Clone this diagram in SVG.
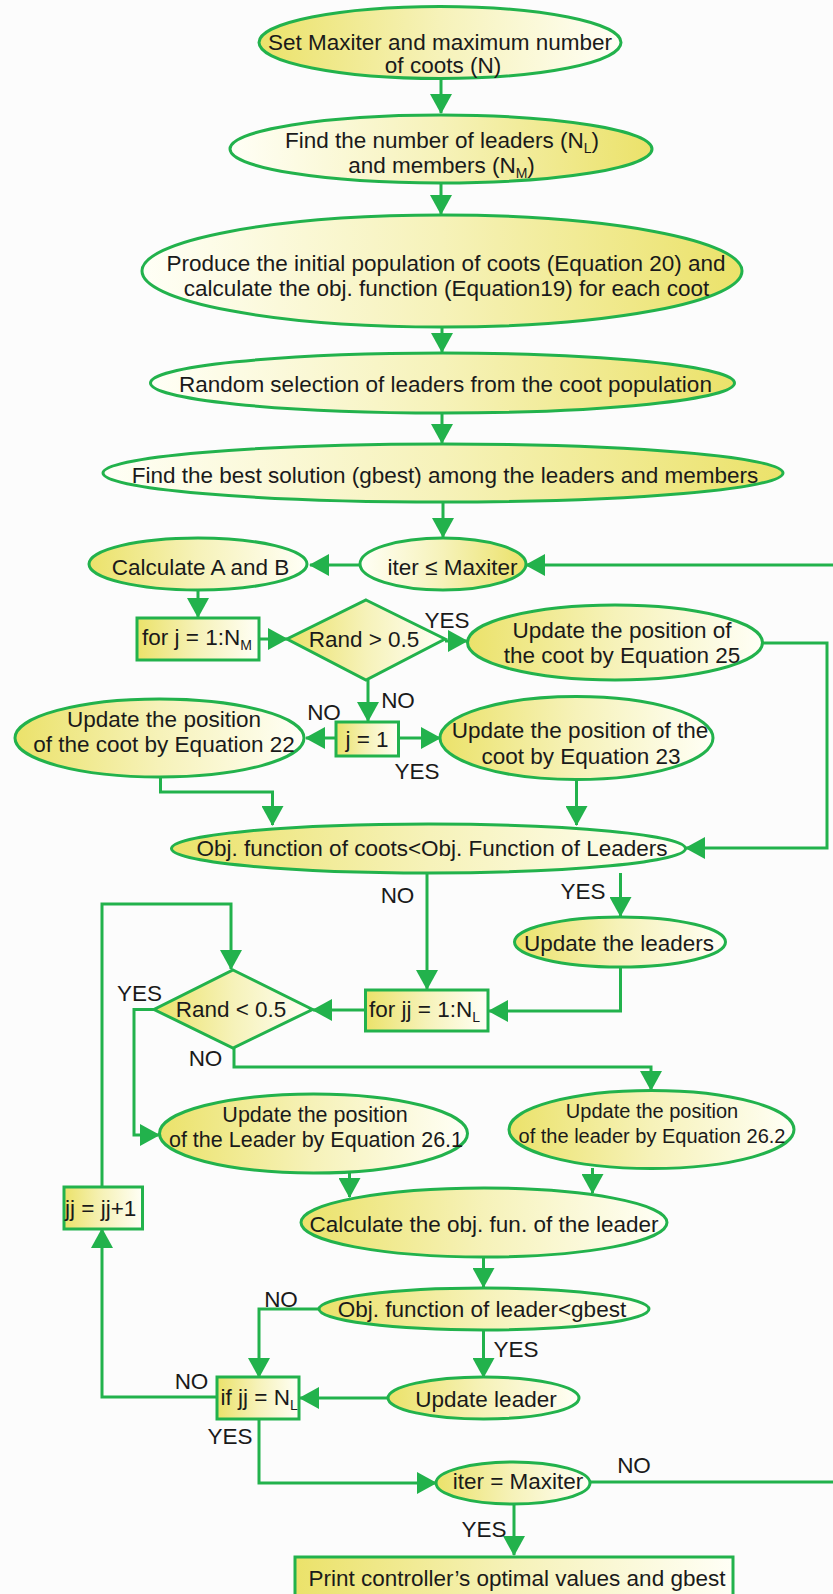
<svg xmlns="http://www.w3.org/2000/svg" width="833" height="1594" viewBox="0 0 833 1594">
<defs>
<linearGradient id="gl" x1="0" y1="0" x2="1" y2="0">
<stop offset="0" stop-color="#ebe26a"/>
<stop offset="0.5" stop-color="#f6f2b9"/>
<stop offset="1" stop-color="#fffff6"/>
</linearGradient>
<linearGradient id="gr" x1="0" y1="0" x2="1" y2="0">
<stop offset="0" stop-color="#fffff6"/>
<stop offset="0.5" stop-color="#f6f2b9"/>
<stop offset="1" stop-color="#ebe26a"/>
</linearGradient>
<marker id="ah" markerUnits="userSpaceOnUse" markerWidth="20" markerHeight="22" refX="19" refY="11" orient="auto">
<path d="M0,0 L20,11 L0,22 z" fill="#22b24c"/>
</marker>
<style>
.n{stroke:#22b24c;stroke-width:3}
.l{fill:url(#gl)}
.r{fill:url(#gr)}
text{font-family:"Liberation Sans",Arial,sans-serif;font-size:22.5px;fill:#1a1a1a;text-anchor:middle}
text.s{text-anchor:start}
text.f21{font-size:21.5px}
text.f20{font-size:20px}
tspan.sub{font-size:14px}
.c path{fill:none;stroke:#22b24c;stroke-width:3}
.c .a{marker-end:url(#ah)}
</style>
</defs>
<rect width="833" height="1594" fill="#fcfcfc"/>
<g class="c" id="connectors">
<path class="a" d="M441,78 V113"/>
<path class="a" d="M441,183 V214"/>
<path class="a" d="M442,327 V352"/>
<path class="a" d="M442,413 V443"/>
<path class="a" d="M443,502 V537"/>
<path class="a" d="M360,565 H310"/>
<path class="a" d="M833,565 H526"/>
<path class="a" d="M198,590 V617"/>
<path class="a" d="M259,639 H287"/>
<path class="a" d="M445,641 H467"/>
<path class="a" d="M762,643 H827 V848 H686"/>
<path class="a" d="M368,680 V721"/>
<path class="a" d="M336,738 H306"/>
<path class="a" d="M398,738 H440"/>
<path class="a" d="M160.5,777 V792 H272.5 V825"/>
<path class="a" d="M576.5,780 V825"/>
<path class="a" d="M427,873 V989"/>
<path class="a" d="M620.5,873 V916"/>
<path class="a" d="M620.5,967 V1011 H489"/>
<path class="a" d="M365.5,1010 H313"/>
<path class="a" d="M102,1187 V904 H231 V969"/>
<path class="a" d="M154,1009.5 H134 V1135 H159"/>
<path class="a" d="M234,1048 V1067 H651 V1090"/>
<path class="a" d="M349.5,1173 V1197"/>
<path class="a" d="M592.5,1168 V1193"/>
<path class="a" d="M483.5,1257 V1287"/>
<path class="a" d="M319,1309 H259 V1377"/>
<path class="a" d="M483.5,1330 V1377"/>
<path class="a" d="M388,1398 H300"/>
<path class="a" d="M217,1397 H102 V1229"/>
<path class="a" d="M259,1419 V1483 H436"/>
<path d="M590,1482 H833"/>
<path class="a" d="M514,1504 V1555"/>
</g>
<g id="labels">
<text x="447" y="628">YES</text>
<text x="398" y="708">NO</text>
<text x="324" y="720">NO</text>
<text x="417" y="779">YES</text>
<text x="397.5" y="903">NO</text>
<text x="583" y="899">YES</text>
<text x="139.5" y="1001">YES</text>
<text x="205.5" y="1066">NO</text>
<text x="281" y="1307">NO</text>
<text x="516" y="1357">YES</text>
<text x="191.5" y="1389">NO</text>
<text x="230" y="1444">YES</text>
<text x="634" y="1473">NO</text>
<text x="484" y="1537">YES</text>
</g>
<g id="n1"><ellipse class="n l" cx="440" cy="42.5" rx="181" ry="36"/><text x="440" y="50">Set Maxiter and maximum number</text><text x="443" y="73">of coots (N)</text></g>
<g id="n2"><ellipse class="n r" cx="441" cy="149" rx="211" ry="34"/><text x="442" y="148">Find the number of leaders (N<tspan class="sub" dy="5">L</tspan><tspan dy="-5">)</tspan></text><text x="441.5" y="173">and members (N<tspan class="sub" dy="5">M</tspan><tspan dy="-5">)</tspan></text></g>
<g id="n3"><ellipse class="n r" cx="442" cy="271" rx="300" ry="56"/><text x="446" y="271">Produce the initial population of coots (Equation 20) and</text><text x="446.5" y="296">calculate the obj. function (Equation19) for each coot</text></g>
<g id="n4"><ellipse class="n r" cx="442.5" cy="383" rx="292" ry="30"/><text x="445.5" y="392">Random selection of leaders from the coot population</text></g>
<g id="n5"><ellipse class="n r" cx="443" cy="473" rx="340" ry="29"/><text x="445" y="483">Find the best solution (gbest) among the leaders and members</text></g>
<g id="n6"><ellipse class="n r" cx="443" cy="564" rx="83" ry="26"/><text x="452.5" y="575">iter ≤ Maxiter</text></g>
<g id="n7"><ellipse class="n l" cx="198" cy="564" rx="109" ry="26"/><text x="200.5" y="575">Calculate A and B</text></g>
<g id="n8"><rect class="n l" x="137" y="618" width="122" height="42"/><text class="s" x="142" y="645">for j = 1:N<tspan class="sub" dy="5">M</tspan></text></g>
<g id="n9"><polygon class="n l" points="366,600 445,639 366,680 287,639"/><text x="364" y="647">Rand &gt; 0.5</text></g>
<g id="n10"><ellipse class="n l" cx="615" cy="642.5" rx="147.5" ry="37.5"/><text x="622" y="638">Update the position of</text><text x="622" y="663">the coot by Equation 25</text></g>
<g id="n11"><rect class="n l" x="336" y="722" width="62.5" height="34"/><text x="367" y="747">j = 1</text></g>
<g id="n12"><ellipse class="n l" cx="159.5" cy="738" rx="144.5" ry="39"/><text x="164" y="727">Update the position</text><text x="164" y="752">of the coot by Equation 22</text></g>
<g id="n13"><ellipse class="n l" cx="576.5" cy="738" rx="136.5" ry="41.5"/><text x="580" y="738">Update the position of the</text><text x="581" y="764">coot by Equation 23</text></g>
<g id="n14"><ellipse class="n l" cx="428.5" cy="848.5" rx="257" ry="24.5"/><text x="432" y="856">Obj. function of coots&lt;Obj. Function of Leaders</text></g>
<g id="n15"><ellipse class="n l" cx="620" cy="942" rx="105.5" ry="25"/><text x="619" y="951">Update the leaders</text></g>
<g id="n16"><rect class="n l" x="365.5" y="990" width="122.5" height="41"/><text class="s" x="369" y="1017">for jj = 1:N<tspan class="sub" dy="5">L</tspan></text></g>
<g id="n17"><polygon class="n l" points="233,970 312.5,1009.5 233,1048 154,1009.5"/><text x="231" y="1017">Rand &lt; 0.5</text></g>
<g id="n18"><ellipse class="n l" cx="313.5" cy="1133.5" rx="154" ry="39.5"/><text class="f21" x="315" y="1122">Update the position</text><text class="f21" x="316" y="1147">of the Leader by Equation 26.1</text></g>
<g id="n19"><ellipse class="n l" cx="651.5" cy="1129.5" rx="142.5" ry="39"/><text class="f20" x="652" y="1118">Update the position</text><text class="f20" x="652" y="1143">of the leader by Equation 26.2</text></g>
<g id="n20"><ellipse class="n l" cx="484" cy="1222.5" rx="183" ry="34.5"/><text x="484" y="1232">Calculate the obj. fun. of the leader</text></g>
<g id="n21"><rect class="n l" x="64" y="1187" width="78.5" height="42"/><text class="s" x="65" y="1216">jj = jj+1</text></g>
<g id="n22"><ellipse class="n l" cx="484" cy="1309" rx="165" ry="21"/><text x="482" y="1317">Obj. function of leader&lt;gbest</text></g>
<g id="n23"><rect class="n l" x="217" y="1377" width="82" height="42"/><text class="s" x="220.5" y="1405">if jj = N<tspan class="sub" dy="5">L</tspan></text></g>
<g id="n24"><ellipse class="n l" cx="483.5" cy="1398" rx="95.5" ry="21"/><text x="486" y="1407">Update leader</text></g>
<g id="n25"><ellipse class="n l" cx="513" cy="1483" rx="77" ry="21"/><text x="518" y="1489">iter = Maxiter</text></g>
<g id="n26"><rect class="n l" x="295" y="1557" width="438" height="50"/><text x="517" y="1586">Print controller’s optimal values and gbest</text></g>
</svg>
